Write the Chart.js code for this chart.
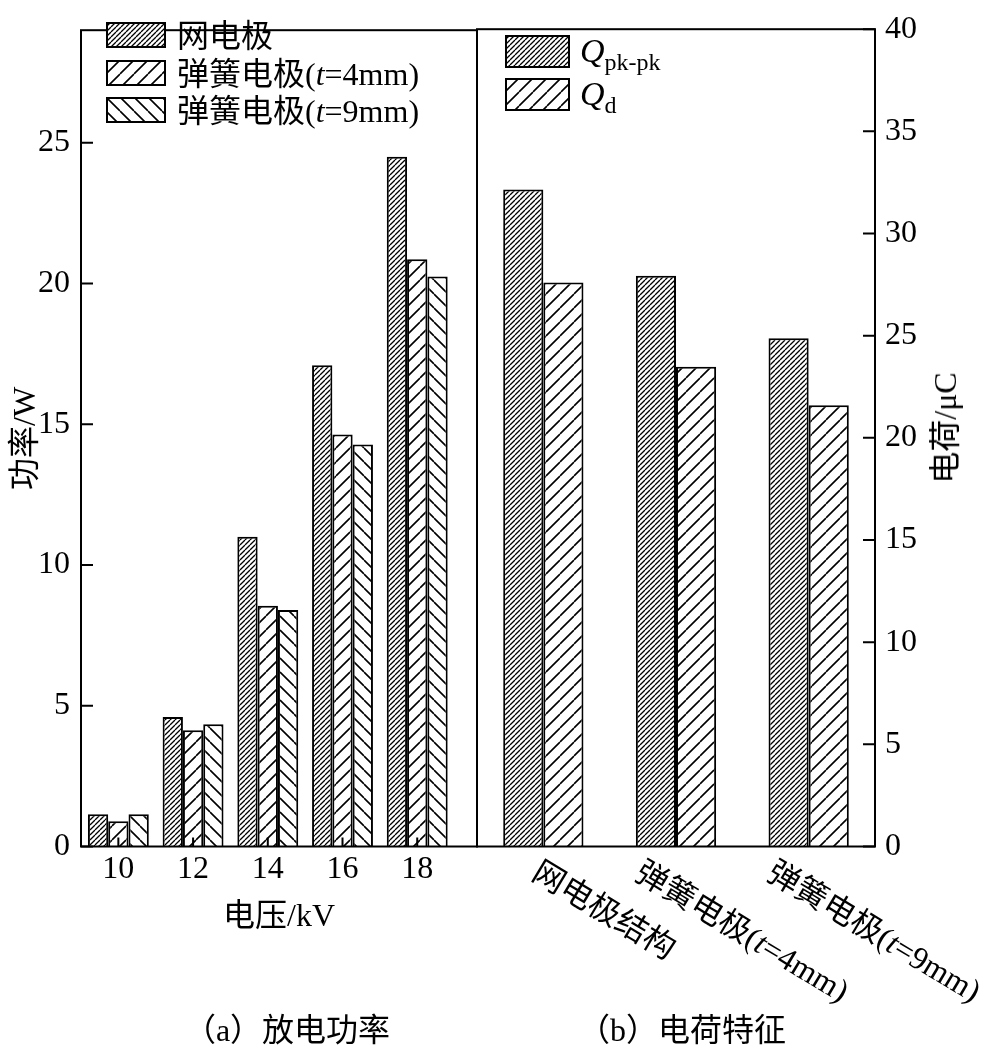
<!DOCTYPE html>
<html>
<head>
<meta charset="utf-8">
<script src="https://cdn.jsdelivr.net/npm/chart.js@4.4.1/dist/chart.umd.min.js"></script>
<style>
html, body { margin: 0; padding: 0; background: #fff; }
#page { position: relative; width: 993px; height: 1048px; overflow: hidden; color: #000;
  font-family: "Liberation Serif", "Noto Sans CJK SC", serif; }
.box { position: absolute; top: 0; height: 1048px; }
#leftBox { left: 0; width: 480px; }
#rightBox { left: 420px; width: 573px; }
.txt { position: absolute; white-space: nowrap; font-size: 32px; line-height: 32px; }
.center { transform: translate(-50%, -50%); }
.swatch { position: absolute; }
sub { font-size: 24px; vertical-align: baseline; position: relative; top: 8px; }
</style>
</head>
<body>
<div id="page">
  <div class="box" id="leftBox"><canvas id="powerChart"></canvas></div>
  <div class="box" id="rightBox"><canvas id="chargeChart"></canvas></div>
</div>
<script>
// 左: 放电功率 (W)
const voltages = [10, 12, 14, 16, 18];
const meshPower = [1.15, 4.6, 11.0, 17.1, 24.5];
const spring4Power = [0.9, 4.13, 8.55, 14.64, 20.86];
const spring9Power = [1.15, 4.34, 8.4, 14.28, 20.25];
const powerTicks = [0, 5, 10, 15, 20, 25];

// 右: 电荷特征 (μC)
const structures = ['网电极结构', '弹簧电极(t=4mm)', '弹簧电极(t=9mm)'];
const chargePkPk = [32.15, 27.93, 24.87];
const chargeD = [27.6, 23.48, 21.6];
const chargeTicks = [0, 5, 10, 15, 20, 25, 30, 35, 40];

const FONT = '"Liberation Serif", "Noto Sans CJK SC", serif';
const tickFont = { family: FONT, size: 32 };
const RIGHT_LEFT = 420;

// 斜线ハッチング
function hatch(size, dir, lw) {
    const c = document.createElement('canvas');
    c.width = c.height = size;
    const g = c.getContext('2d');
    g.fillStyle = '#fff';
    g.fillRect(0, 0, size, size);
    g.strokeStyle = '#000';
    g.lineWidth = lw;
    g.beginPath();
    for (let k = -1; k <= 1; k++) {
        if (dir === '/') { g.moveTo(k * size, size); g.lineTo(k * size + size, 0); }
        else { g.moveTo(k * size, 0); g.lineTo(k * size + size, size); }
    }
    g.stroke();
    return g.createPattern(c, 'repeat');
}
const denseFill = hatch(5, '/', 1.3);
const sparseFill = hatch(14, '/', 1.6);
const backFill = hatch(14, '\\', 1.6);

// 枠線と内向きの目盛り
const framePlugin = {
    id: 'frame',
    afterDatasetsDraw(chart, args, opts) {
        const { ctx, chartArea: a } = chart;
        ctx.save();
        ctx.strokeStyle = '#000';
        ctx.lineWidth = 2;
        ctx.strokeRect(a.left, a.top, a.right - a.left, a.bottom - a.top);
        ctx.beginPath();
        const y = chart.scales.y;
        y.ticks.forEach(t => {
            const py = y.getPixelForValue(t.value);
            if (opts.ySide === 'left') { ctx.moveTo(a.left, py); ctx.lineTo(a.left + 12, py); }
            else { ctx.moveTo(a.right, py); ctx.lineTo(a.right - 12, py); }
        });
        if (opts.xTicks) {
            const x = chart.scales.x;
            x.ticks.forEach(t => {
                const px = x.getPixelForValue(t.value);
                ctx.moveTo(px, a.bottom);
                ctx.lineTo(px, a.bottom - 9);
            });
        }
        ctx.stroke();
        ctx.restore();
    }
};

const noGrid = { display: false, drawTicks: false };
const barStyle = { borderColor: '#000', borderWidth: 2, borderSkipped: 'start' };

const powerChart = new Chart(document.getElementById('powerChart'), {
    type: 'bar',
    data: {
        datasets: [
            { label: '网电极', data: voltages.map((v, i) => ({ x: v, y: meshPower[i] })), backgroundColor: denseFill, ...barStyle },
            { label: '弹簧电极(t=4mm)', data: voltages.map((v, i) => ({ x: v, y: spring4Power[i] })), backgroundColor: sparseFill, ...barStyle },
            { label: '弹簧电极(t=9mm)', data: voltages.map((v, i) => ({ x: v, y: spring9Power[i] })), backgroundColor: backFill, ...barStyle }
        ]
    },
    options: {
        responsive: true,
        maintainAspectRatio: false,
        animation: false,
        layout: { padding: { top: 11, right: 3, left: 0, bottom: 0 } },
        datasets: { bar: { categoryPercentage: 0.815, barPercentage: 1 } },
        plugins: {
            legend: { display: false },
            tooltip: { enabled: false },
            frame: { ySide: 'left', xTicks: true }
        },
        scales: {
            x: {
                type: 'linear', offset: false, min: 9, max: 19.6,
                afterBuildTicks: s => { s.ticks = voltages.map(v => ({ value: v })); },
                afterFit: s => { s.height = 201.5; },
                grid: noGrid, border: { display: false },
                ticks: { font: tickFont, color: '#000', padding: 4, maxRotation: 0, autoSkip: false },
                title: { display: true, text: '电压/kV', font: tickFont, color: '#000', padding: { top: 0, bottom: 111 } }
            },
            y: {
                min: 0, max: 29,
                afterBuildTicks: s => { s.ticks = powerTicks.map(v => ({ value: v })); },
                afterFit: s => { s.width = 81; },
                grid: noGrid, border: { display: false },
                ticks: { font: tickFont, color: '#000', padding: 11 },
                title: { display: true, text: '功率/W', font: tickFont, color: '#000', padding: { top: 7, bottom: 0 } }
            }
        }
    },
    plugins: [framePlugin]
});

const chargeChart = new Chart(document.getElementById('chargeChart'), {
    type: 'bar',
    data: {
        labels: structures,
        datasets: [
            { label: 'Qpk-pk', data: chargePkPk, backgroundColor: denseFill, ...barStyle },
            { label: 'Qd', data: chargeD, backgroundColor: sparseFill, ...barStyle }
        ]
    },
    options: {
        responsive: true,
        maintainAspectRatio: false,
        animation: false,
        layout: { padding: { top: 11, right: 0, left: 477 - RIGHT_LEFT, bottom: 0 } },
        datasets: { bar: { categoryPercentage: 0.605, barPercentage: 1 } },
        plugins: {
            legend: { display: false },
            tooltip: { enabled: false },
            frame: { ySide: 'right', xTicks: false }
        },
        scales: {
            x: {
                afterFit: s => { s.height = 201.5; },
                grid: noGrid, border: { display: false },
                ticks: { display: false }
            },
            y: {
                position: 'right', min: 0, max: 40,
                afterBuildTicks: s => { s.ticks = chargeTicks.map(v => ({ value: v })); },
                afterFit: s => { s.width = 118; },
                grid: noGrid, border: { display: false },
                ticks: { font: tickFont, color: '#000', padding: 10 }
            }
        }
    },
    plugins: [framePlugin]
});

// ---- テキスト類 (凡例・軸タイトル・キャプション) ----
const page = document.getElementById('page');
function addText(html, left, top, cls, extraStyle) {
    const d = document.createElement('div');
    d.className = 'txt' + (cls ? ' ' + cls : '');
    d.innerHTML = html;
    d.style.left = left + 'px';
    d.style.top = top + 'px';
    if (extraStyle) Object.assign(d.style, extraStyle);
    page.appendChild(d);
    return d;
}
function addSwatch(fill, left, top, w, h) {
    const c = document.createElement('canvas');
    c.width = w; c.height = h;
    c.className = 'swatch';
    c.style.left = left + 'px';
    c.style.top = top + 'px';
    const g = c.getContext('2d');
    g.fillStyle = fill;
    g.fillRect(0, 0, w, h);
    g.strokeStyle = '#000';
    g.lineWidth = 2;
    g.strokeRect(1, 1, w - 2, h - 2);
    page.appendChild(c);
}
const fmt = s => s.replace('(t=', '(<i>t</i>=');

// 左の凡例
const leftFills = [denseFill, sparseFill, backFill];
powerChart.data.datasets.forEach((ds, i) => {
    const y = 22 + i * 37.5;
    addSwatch(leftFills[i], 106, y, 60, 26);
    addText(fmt(ds.label), 177, y + 13 - 15);
});

// 右の凡例
addSwatch(denseFill, 505, 35, 65, 33);
addText('<i style="font-size:34px">Q</i><sub>pk-pk</sub>', 580, 35);
addSwatch(sparseFill, 505, 78, 65, 33);
addText('<i style="font-size:34px">Q</i><sub>d</sub>', 580, 78);

// 右軸タイトル
addText('电荷/μC', 945, 428, null, { transform: 'translate(-50%, -50%) rotate(-90deg)' });

// 右の斜めカテゴリラベル
const labelShift = [1, -29, -30];
const rx = chargeChart.scales.x;
structures.forEach((s, i) => {
    const px = rx.getPixelForValue(i) + RIGHT_LEFT;
    addText(fmt(s), px + labelShift[i], 855, null, { transformOrigin: '0 0', transform: 'rotate(31deg)' });
});

// キャプション
addText('（a）放电功率', 287, 1030, 'center');
addText('（b）电荷特征', 682, 1030, 'center');
</script>
</body>
</html>
